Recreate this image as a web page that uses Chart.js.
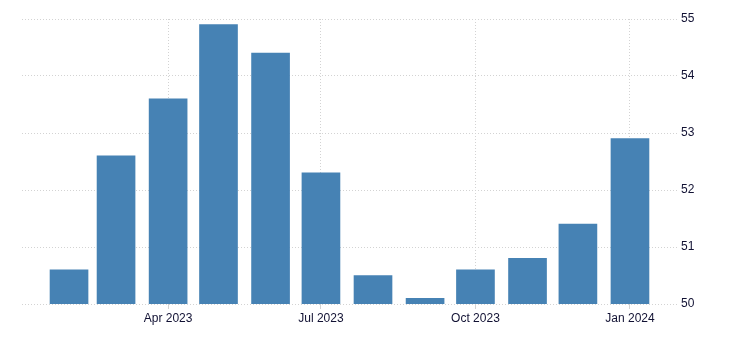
<!DOCTYPE html>
<html>
<head>
<meta charset="utf-8">
<script src="https://cdn.jsdelivr.net/npm/chart.js@4/dist/chart.umd.min.js"></script>
<style>
html,body{margin:0;padding:0;background:#fff;}
#wrap{width:730px;height:351px;position:relative;}
</style>
</head>
<body>
<div id="wrap"><canvas id="c" width="730" height="351"></canvas></div>
<script>
// Data
const months = ["2023-02","2023-03","2023-04","2023-05","2023-06","2023-07","2023-08","2023-09","2023-10","2023-11","2023-12","2024-01"];
const values = [50.6, 52.6, 53.6, 54.9, 54.4, 52.3, 50.5, 50.1, 50.6, 50.8, 51.4, 52.9];
const tickMonths = ["2023-04","2023-07","2023-10","2024-01"];
const tickLabels = ["Apr 2023","Jul 2023","Oct 2023","Jan 2024"];
const yTicks = [50, 51, 52, 53, 54, 55];

const DAY = 86400000;
function dayNum(m){ const [y,mo] = m.split("-").map(Number); return Date.UTC(y, mo-1, 1)/DAY; }
const xs = months.map(dayNum);
const tickXs = tickMonths.map(dayNum);
const points = xs.map((x,i)=>({x:x, y:values[i]}));

const gridColor = "#d3d3d3";
const textColor = "#111133";

new Chart(document.getElementById("c"), {
  type: "bar",
  data: { datasets: [{ data: points, backgroundColor: "#4682B4", borderWidth: 0, barThickness: 38 }] },
  options: {
    responsive: false,
    animation: false,
    layout: { padding: { left: 22, top: 19, right: 0, bottom: 0 } },
    plugins: { legend: { display: false }, tooltip: { enabled: false } },
    scales: {
      x: {
        type: "linear",
        offset: false,
        min: xs[0] - 28,
        max: xs[xs.length-1] + 28,
        afterBuildTicks: (s) => { s.ticks = tickXs.map(v => ({ value: v })); },
        afterFit: (s) => { s.height = 47; },
        border: { display: false, dash: [1,2] },
        grid: { offset: false, color: gridColor, tickColor: gridColor, tickLength: 5, drawTicks: true },
        ticks: {
          color: textColor,
          font: { family: "'Liberation Sans', Arial, sans-serif", size: 12 },
          padding: 2,
          maxRotation: 0,
          autoSkip: false,
          callback: (v) => { const i = tickXs.indexOf(v); return i >= 0 ? tickLabels[i] : ""; }
        }
      },
      y: {
        position: "right",
        min: 50,
        max: 55,
        afterBuildTicks: (s) => { s.ticks = yTicks.map(v => ({ value: v })); },
        afterFit: (s) => { s.width = 53; },
        border: { display: false, dash: [1,2] },
        grid: { color: gridColor, drawTicks: false },
        ticks: {
          color: textColor,
          font: { family: "'Liberation Sans', Arial, sans-serif", size: 12 },
          padding: 4,
          callback: (v) => String(v)
        }
      }
    }
  }
});
</script>
</body>
</html>
